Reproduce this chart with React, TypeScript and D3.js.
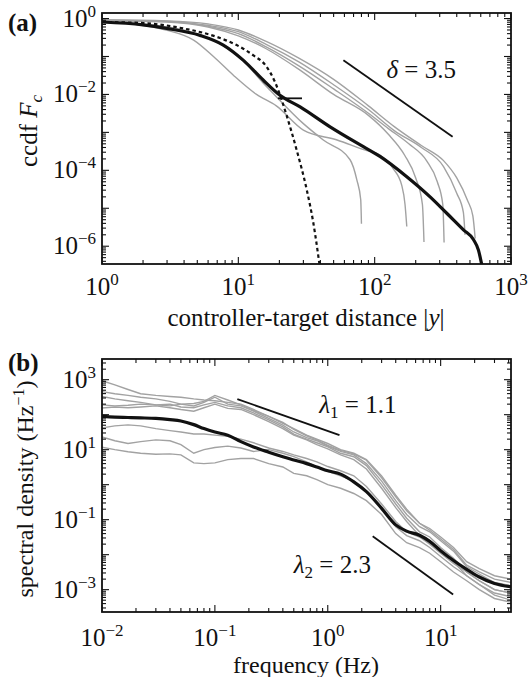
import React, { useRef, useEffect } from "react";
import * as d3 from "d3";

// ---------- panel (a): ccdf of controller-target distance ----------
const ccdfMean: [number, number][] = [
  [1, 0.81], [2, 0.68], [2.98, 0.55], [5.24, 0.36], [7.76, 0.2], [10.9, 0.079], [15.2, 0.024],
  [20.2, 0.0095], [28.4, 0.0047], [47.1, 0.0014], [82.6, 4.2e-4], [110, 2.3e-4], [172, 6.8e-5],
  [255, 2.0e-5], [338, 7.4e-6], [448, 2.7e-6], [530, 1.5e-6], [577, 7.9e-7], [611, 3.2e-7],
];
const ccdfGauss: [number, number][] = [
  [1, 0.81], [2, 0.76], [3.94, 0.55], [6.92, 0.33], [9.72, 0.2], [12.9, 0.107], [16.1, 0.054],
  [18.6, 0.021], [20.8, 0.0071], [22.6, 0.0028], [26.8, 3.4e-4], [31.8, 3.0e-5], [35.5, 4.1e-6], [39.3, 3.5e-7],
];
const ccdfRuns: [number, number][][] = [
  [[1, 0.93], [3, 0.87], [6, 0.72], [10, 0.5], [16, 0.25], [28, 0.089], [50, 0.025], [90, 0.005], [140, 0.0014],
    [220, 4.5e-4], [320, 1.8e-4], [400, 6.3e-5], [480, 1.6e-5], [525, 6.3e-6], [546, 1.6e-6]],
  [[1, 0.91], [3, 0.85], [6, 0.66], [10, 0.45], [16, 0.21], [28, 0.071], [50, 0.018], [90, 0.004], [140, 0.0011],
    [220, 4.0e-4], [320, 1.26e-4], [400, 2.5e-5], [447, 7.9e-6], [460, 2.0e-6]],
  [[1, 0.89], [3, 0.83], [6, 0.63], [10, 0.4], [16, 0.18], [28, 0.056], [50, 0.014], [90, 0.0032], [126, 1.26e-3],
    [178, 5e-4], [240, 1.8e-4], [288, 5e-5], [316, 1.26e-5], [323, 1.26e-6]],
  [[1, 0.89], [3, 0.81], [6, 0.6], [10, 0.35], [16, 0.16], [28, 0.045], [50, 0.01], [90, 0.0028], [126, 8.9e-4],
    [166, 2.5e-4], [200, 6.3e-5], [224, 1.26e-5], [230, 1.3e-6]],
  [[1, 0.83], [3, 0.49], [4.7, 0.27], [6.6, 0.098], [9.2, 0.032], [13.6, 0.01], [19, 0.005], [30, 1.15e-3],
    [53, 6.3e-4], [83, 3.5e-4], [110, 2.5e-4], [137, 1.1e-4], [158, 4e-5], [167, 1.26e-5], [172, 3.3e-6]],
  [[1, 0.83], [3.2, 0.58], [5.2, 0.37], [7.8, 0.19], [10.9, 0.076], [15.2, 0.02], [17.1, 0.0129], [30, 1.7e-3],
    [42, 6.3e-4], [66, 1.9e-4], [74, 5.6e-5], [79, 1.7e-5], [80, 3.9e-6]],
];
const deltaLine: [number, number][] = [[59, 0.08], [373, 7.7e-4]];
const cutoffMark: [number, number][] = [[19.5, 0.0079], [29.3, 0.0079]];
const deltaTextAt: [number, number] = [122, 0.027];
const xTicksA = [1, 10, 100, 1000];
const yTicksA = [1, 1e-2, 1e-4, 1e-6];

// ---------- panel (b): spectral density ----------
const freqs = [0.01, 0.013, 0.017, 0.022, 0.03, 0.04, 0.05, 0.065, 0.08, 0.1, 0.13, 0.17, 0.22, 0.3, 0.4, 0.5,
  0.65, 0.8, 1, 1.3, 1.7, 2.2, 3, 4, 5, 6.5, 8, 10, 13, 17, 22, 30, 42];
const psdMean = [89, 85, 83, 81, 78, 72, 66, 52, 40, 32, 26, 17, 12, 8.5, 6.3, 5.1, 4.0, 3.2, 2.5, 2.0, 1.2,
  0.63, 0.21, 0.071, 0.047, 0.036, 0.024, 0.013, 0.0068, 0.0038, 0.0023, 0.0015, 0.0012];
const psdRuns: number[][] = [
  [933, 708, 525, 398, 355, 331, 316, 282, 263, 251, 224, 200, 141, 89, 56, 40, 26, 20, 15, 10, 7.9, 5.2, 1.78,
    0.5, 0.2, 0.079, 0.056, 0.032, 0.016, 0.0063, 0.004, 0.0025, 0.002],
  [457, 398, 355, 316, 282, 240, 200, 178, 224, 316, 200, 178, 126, 79, 50, 32, 22, 18, 12.6, 8.9, 7.1, 4.0, 1.26,
    0.35, 0.14, 0.063, 0.045, 0.025, 0.0126, 0.0045, 0.0028, 0.0016, 0.0013],
  [331, 282, 251, 224, 191, 178, 200, 209, 240, 355, 263, 191, 132, 89, 60, 38, 25, 19, 13.2, 9.5, 7.6, 5.0, 1.58,
    0.45, 0.18, 0.079, 0.05, 0.028, 0.014, 0.005, 0.0032, 0.002, 0.0016],
  [191, 178, 186, 200, 191, 200, 166, 158, 191, 224, 178, 158, 112, 71, 45, 28, 20, 15.8, 12, 7.9, 6.3, 3.5, 1.0,
    0.28, 0.11, 0.045, 0.032, 0.016, 0.0079, 0.0032, 0.0018, 0.001, 0.0008],
  [155, 166, 158, 166, 178, 158, 141, 126, 158, 200, 151, 141, 100, 63, 40, 26, 19, 14, 10.5, 7.1, 5.2, 2.8, 0.79,
    0.22, 0.089, 0.035, 0.025, 0.0126, 0.0063, 0.0025, 0.0014, 0.0007, 0.0005],
  [42, 48, 51, 48, 40, 35, 32, 28, 28, 26, 24, 20, 15.8, 11.2, 8.9, 7.1, 5.6, 4.5, 3.3, 2.5, 1.8, 0.89, 0.28,
    0.089, 0.045, 0.032, 0.02, 0.011, 0.0056, 0.0032, 0.0018, 0.001, 0.0008],
  [23, 18, 15, 17, 19, 18, 14, 7.9, 10, 11.5, 12.6, 11.2, 8.9, 10, 7.9, 6.3, 4.5, 3.2, 2.4, 1.8, 1.26, 0.63, 0.22,
    0.063, 0.035, 0.025, 0.016, 0.0089, 0.0045, 0.0025, 0.0014, 0.0008, 0.00063],
  [11.7, 10, 8.7, 7.9, 7.4, 7.6, 7.1, 4.2, 4.0, 4.2, 5.2, 5.6, 5.6, 4.0, 3.2, 2.1, 1.8, 1.4, 1.0, 0.79, 0.56, 0.35,
    0.14, 0.04, 0.022, 0.016, 0.011, 0.0063, 0.0032, 0.0018, 0.001, 0.00056, 0.00044],
];
const lambda1Line: [number, number][] = [[0.158, 280], [1.27, 26]];
const lambda2Line: [number, number][] = [[2.5, 0.0337], [12.9, 7.3e-4]];
const lambda1TextAt: [number, number] = [0.84, 113];
const lambda2TextAt: [number, number] = [0.5, 0.0029];
const xTicksB = [0.01, 0.1, 1, 10];
const yTicksB = [1e3, 10, 0.1, 1e-3];

const FONT = "'Liberation Serif', 'Times New Roman', serif";
const GRAY = "#a2a2a2";

function logTicks(domain: number[]) {
  const lo = Math.min(domain[0], domain[1]);
  const hi = Math.max(domain[0], domain[1]);
  const out: { v: number; major: boolean }[] = [];
  for (let k = Math.floor(Math.log10(lo)); k <= Math.ceil(Math.log10(hi)); k++) {
    for (let m = 1; m < 10; m++) {
      const v = m * Math.pow(10, k);
      if (v >= lo * 0.999 && v <= hi * 1.001) out.push({ v, major: m === 1 });
    }
  }
  return out;
}

function powLabel(t: any, v: number) {
  const e = Math.round(Math.log10(v));
  t.append("tspan").text("10");
  t.append("tspan").attr("dy", -10).attr("font-size", 17).text(e < 0 ? "\u2212" + -e : String(e));
}

function drawFrame(g: any, x: any, y: any, xt: number[], yt: number[], xLabY: number) {
  const [x0, x1] = x.range();
  const [yb, yt0] = y.range();
  logTicks(x.domain()).forEach((t) => {
    const px = x(t.v);
    const len = t.major ? 7 : 4;
    g.append("line").attr("x1", px).attr("x2", px).attr("y1", yb).attr("y2", yb - len);
    g.append("line").attr("x1", px).attr("x2", px).attr("y1", yt0).attr("y2", yt0 + len);
  });
  logTicks(y.domain()).forEach((t) => {
    const py = y(t.v);
    const len = t.major ? 7 : 4;
    g.append("line").attr("x1", x0).attr("x2", x0 + len).attr("y1", py).attr("y2", py);
    g.append("line").attr("x1", x1).attr("x2", x1 - len).attr("y1", py).attr("y2", py);
  });
  g.selectAll("line").attr("stroke", "#111").attr("stroke-width", 1.1);
  g.append("rect").attr("x", x0).attr("y", yt0).attr("width", x1 - x0).attr("height", yb - yt0)
    .attr("fill", "none").attr("stroke", "#111").attr("stroke-width", 1.8);

  xt.forEach((v) => {
    const t = g.append("text").attr("x", x(v)).attr("y", xLabY).attr("text-anchor", "middle");
    powLabel(t, v);
  });
  yt.forEach((v) => {
    const t = g.append("text").attr("x", x0 - 6).attr("y", y(v) + 8).attr("text-anchor", "end");
    powLabel(t, v);
  });
}

export default function App() {
  const svgRef = useRef<SVGSVGElement>(null);

  useEffect(() => {
    const svg = d3.select(svgRef.current);
    svg.selectAll("*").remove();
    svg.attr("font-family", FONT).attr("font-size", 25).attr("fill", "#111");

    // ---- panel (a)
    const xA = d3.scaleLog().domain([1, 1000]).range([102, 511]);
    const yA = d3.scaleLog().domain([3.4e-7, 1.4]).range([264, 13]);
    const defs = svg.append("defs");
    defs.append("clipPath").attr("id", "clipA").append("rect")
      .attr("x", 102).attr("y", 13).attr("width", 409).attr("height", 251);
    defs.append("clipPath").attr("id", "clipB").append("rect")
      .attr("x", 102).attr("y", 359).attr("width", 409).attr("height", 253);

    const lineA = d3.line<[number, number]>().x((d) => xA(d[0])).y((d) => yA(d[1])).curve(d3.curveMonotoneX);
    const gA = svg.append("g").attr("clip-path", "url(#clipA)");
    ccdfRuns.forEach((r) => {
      gA.append("path").attr("d", lineA(r)).attr("fill", "none").attr("stroke", GRAY).attr("stroke-width", 1.4);
    });
    gA.append("path").attr("d", lineA(ccdfGauss)).attr("fill", "none").attr("stroke", "#111")
      .attr("stroke-width", 2.2).attr("stroke-dasharray", "3.5 3");
    gA.append("path").attr("d", lineA(ccdfMean)).attr("fill", "none").attr("stroke", "#111").attr("stroke-width", 3.2);
    const straightA = d3.line<[number, number]>().x((d) => xA(d[0])).y((d) => yA(d[1]));
    gA.append("path").attr("d", straightA(cutoffMark)).attr("stroke", "#111").attr("stroke-width", 1.8);
    gA.append("path").attr("d", straightA(deltaLine)).attr("stroke", "#111").attr("stroke-width", 1.8);

    drawFrame(svg.append("g"), xA, yA, xTicksA, yTicksA, 295);

    const dT = svg.append("text").attr("x", xA(deltaTextAt[0])).attr("y", yA(deltaTextAt[1]));
    dT.append("tspan").attr("font-style", "italic").text("\u03b4");
    dT.append("tspan").text(" = 3.5");

    const labA = svg.append("text").attr("x", 306).attr("y", 326).attr("text-anchor", "middle");
    labA.append("tspan").text("controller-target distance |");
    labA.append("tspan").attr("font-style", "italic").text("y");
    labA.append("tspan").text("|");

    const ylA = svg.append("text").attr("transform", "translate(37,131) rotate(-90)").attr("text-anchor", "middle");
    ylA.append("tspan").text("ccdf ");
    ylA.append("tspan").attr("font-style", "italic").text("F");
    ylA.append("tspan").attr("font-style", "italic").attr("font-size", 17).attr("dy", 5).text("c");

    svg.append("text").attr("x", 8).attr("y", 31).attr("font-weight", "bold").text("(a)");

    // ---- panel (b)
    const xB = d3.scaleLog().domain([0.01, 42]).range([102, 511]);
    const yB = d3.scaleLog().domain([2.3e-4, 3.9e3]).range([612, 359]);
    const lineB = d3.line<number>().x((_, i) => xB(freqs[i])).y((d) => yB(d));
    const gB = svg.append("g").attr("clip-path", "url(#clipB)");
    psdRuns.forEach((r) => {
      gB.append("path").attr("d", lineB(r)).attr("fill", "none").attr("stroke", GRAY).attr("stroke-width", 1.4);
    });
    gB.append("path").attr("d", lineB.curve(d3.curveMonotoneX)(psdMean)).attr("fill", "none")
      .attr("stroke", "#111").attr("stroke-width", 3.2);
    const straightB = d3.line<[number, number]>().x((d) => xB(d[0])).y((d) => yB(d[1]));
    gB.append("path").attr("d", straightB(lambda1Line)).attr("stroke", "#111").attr("stroke-width", 1.8);
    gB.append("path").attr("d", straightB(lambda2Line)).attr("stroke", "#111").attr("stroke-width", 1.8);

    drawFrame(svg.append("g"), xB, yB, xTicksB, yTicksB, 646);

    [[lambda1TextAt, "1", "1.1"], [lambda2TextAt, "2", "2.3"]].forEach(([at, sub, val]: any) => {
      const t = svg.append("text").attr("x", xB(at[0])).attr("y", yB(at[1]));
      t.append("tspan").attr("font-style", "italic").text("\u03bb");
      t.append("tspan").attr("font-size", 17).attr("dy", 5).text(sub);
      t.append("tspan").attr("dy", -5).text(" = " + val);
    });

    svg.append("text").attr("x", 306).attr("y", 673).attr("font-size", 24)
      .attr("text-anchor", "middle").text("frequency (Hz)");

    const ylB = svg.append("text").attr("transform", "translate(33,489) rotate(-90)")
      .attr("font-size", 24).attr("text-anchor", "middle");
    ylB.append("tspan").text("spectral density (Hz");
    ylB.append("tspan").attr("font-size", 16).attr("dy", -9).text("\u22121");
    ylB.append("tspan").attr("dy", 9).text(")");

    svg.append("text").attr("x", 8).attr("y", 371).attr("font-weight", "bold").text("(b)");
  }, []);

  return (
    <svg ref={svgRef} width={529} height={677}
      style={{ position: "absolute", left: 0, top: 0, background: "#fff" }} />
  );
}
